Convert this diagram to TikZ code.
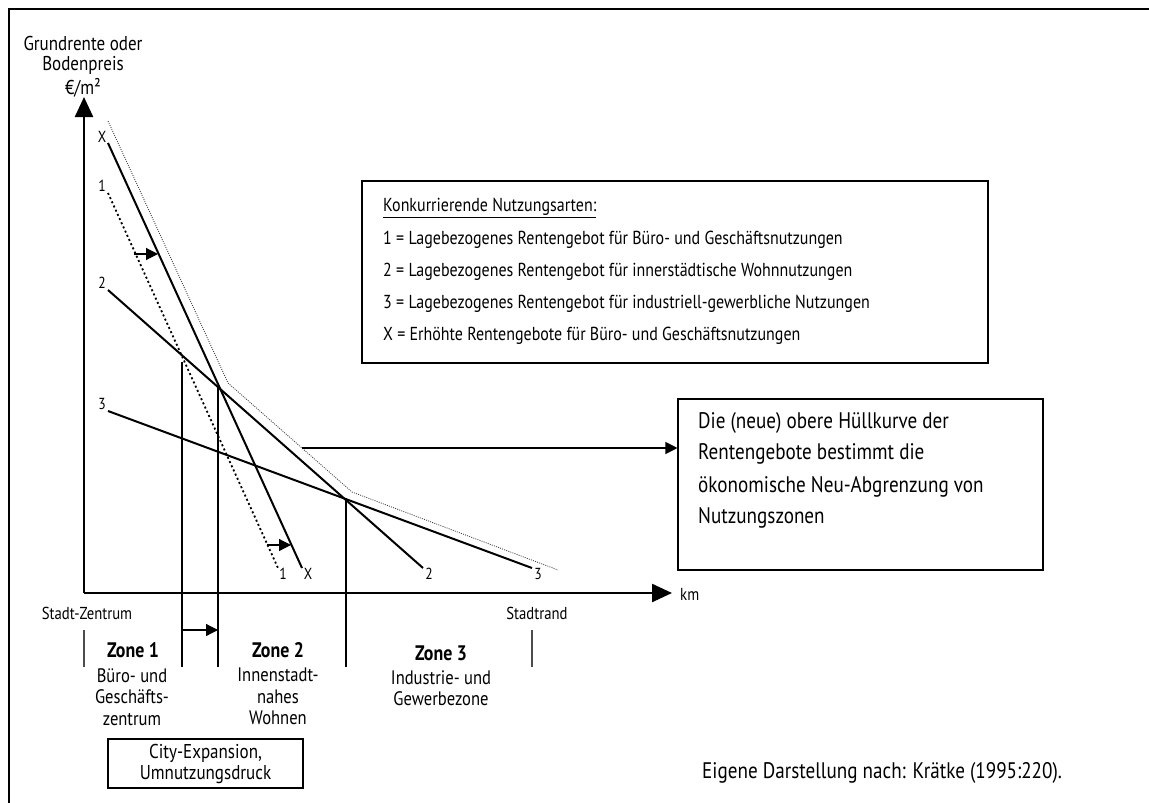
\documentclass[tikz,border=0pt]{standalone}
\usepackage{fontspec}
\setmainfont[FakeStretch=0.85]{PT Sans}
\usetikzlibrary{arrows.meta}
\begin{document}
\begin{tikzpicture}[x=1pt,y=-1pt,
  solidl/.style={line width=2pt, black},
  dotl/.style={line width=1.8pt, dash pattern=on 2pt off 2.6pt, black},
  envl/.style={line width=0.8pt, dash pattern=on 1pt off 1.2pt, black!75},
  thinl/.style={line width=1.1pt, black},
  bigarr/.style={-{Triangle[length=20pt,width=18pt]}, line width=2.4pt},
  smallarr/.style={-{Triangle[length=12pt,width=12pt]}, line width=1.2pt},
  boxl/.style={draw, line width=1.1pt, inner sep=0pt},
  endlbl/.style={inner sep=0pt, font=\fontsize{16}{18}\selectfont},
  leg/.style={anchor=west, inner sep=0pt, font=\fontsize{18.8}{21}\selectfont},
  hull/.style={anchor=west, inner sep=0pt, font=\fontsize{22.5}{24}\selectfont},
  axlbl/.style={inner sep=0pt, font=\fontsize{20}{22}\selectfont},
  small/.style={inner sep=0pt, font=\fontsize{17.3}{19}\selectfont},
  zone/.style={inner sep=0pt, font=\fontsize{21}{23}\selectfont\bfseries},
  zdesc/.style={inner sep=0pt, align=center, font=\fontsize{19.5}{21.5}\selectfont},
]
\useasboundingbox (0,0) rectangle (1149,803);
% frame (only top and left edges visible)
\draw[line width=2.6pt] (9,803) -- (9,9) -- (1149,9);

% axes
\coordinate (O) at (84,593);
\coordinate (ytip) at (84,97);
\coordinate (xtip) at (672,593);
\draw[bigarr] (O) -- (ytip);
\draw[bigarr] (O) -- (xtip);
\node[axlbl] (yl1) at (83,43) {Grundrente oder};
\node[axlbl] (yl2) at (83,65) {Bodenpreis};
\node[axlbl] (yl3) at (83,88) {€/m²};
\node[small, anchor=west] (km) at (680,594) {km};

% bid-rent lines
\coordinate (xs) at (108,143);  \coordinate (xe) at (302,568);
\coordinate (as) at (108,193);  \coordinate (ae) at (278,568);
\coordinate (bs) at (108,290);  \coordinate (be) at (423,568);
\coordinate (cs) at (108,411);  \coordinate (ce) at (532,568);
\draw[solidl] (xs) -- (xe);
\draw[dotl] (as) -- (ae);
\draw[solidl] (bs) -- (be);
\draw[solidl] (cs) -- (ce);
% envelope
\coordinate (h0) at (108,121);
\coordinate (h1) at (228,383);
\coordinate (h2) at (352,492);
\coordinate (h3) at (558,570);
\draw[envl] (h0) -- (h1) -- (h2) -- (h3);

% end labels
\node[endlbl] (lxs) at (102,137) {X};
\node[endlbl] (las) at (102,186) {1};
\node[endlbl] (lbs) at (102,283) {2};
\node[endlbl] (lcs) at (102,404) {3};
\node[endlbl] (lae) at (283,574) {1};
\node[endlbl] (lxe) at (308,574) {X};
\node[endlbl] (lbe) at (429,574) {2};
\node[endlbl] (lce) at (538,574) {3};

% shift arrows
\coordinate (s1a) at (134,254); \coordinate (s1b) at (158,254);
\coordinate (s2a) at (267,545); \coordinate (s2b) at (291,545);
\draw[smallarr] (s1a) -- (s1b);
\draw[smallarr] (s2a) -- (s2b);

% zone boundaries
\coordinate (v1t) at (182,362); \coordinate (v1b) at (182,667);
\coordinate (v2t) at (218,388); \coordinate (v2b) at (218,667);
\coordinate (v3t) at (346,498); \coordinate (v3b) at (346,667);
\coordinate (t0t) at (84,630);  \coordinate (t0b) at (84,667);
\coordinate (t4t) at (532,630); \coordinate (t4b) at (532,667);
\draw[thinl] (v1t) -- (v1b);
\draw[thinl] (v2t) -- (v2b);
\draw[thinl] (v3t) -- (v3b);
\draw[thinl, black!70] (t0t) -- (t0b);
\draw[thinl, black!70] (t4t) -- (t4b);
\coordinate (za) at (182,630); \coordinate (zb) at (218,630);
\draw[smallarr] (za) -- (zb);

\node[small] (sz) at (87,613) {Stadt-Zentrum};
\node[small] (sr) at (537,613) {Stadtrand};
\node[zone] (z1) at (133,650) {Zone 1};
\node[zone] (z2) at (278,650) {Zone 2};
\node[zone] (z3) at (441,653) {Zone 3};
\node[zdesc, anchor=north] (d1) at (132,668) {Büro- und\\Geschäfts-\\zentrum};
\node[zdesc, anchor=north] (d2) at (278,668) {Innenstadt-\\nahes\\Wohnen};
\node[zdesc, anchor=north] (d3) at (441,670) {Industrie- und\\Gewerbezone};

\node[boxl, minimum width=195pt, minimum height=49pt, align=center,
      font=\fontsize{20}{21}\selectfont] (city) at (205.5,763.5) {City-Expansion,\\Umnutzungsdruck};

% legend
\node[boxl, minimum width=626pt, minimum height=182pt] (legbox) at (675,272) {};
\node[leg] (lg0) at (383,208) {\underline{Konkurrierende Nutzungsarten:}};
\node[leg] (lg1) at (383,240) {1 = Lagebezogenes Rentengebot für Büro- und Geschäftsnutzungen};
\node[leg] (lg2) at (383,272) {2 = Lagebezogenes Rentengebot für innerstädtische Wohnnutzungen};
\node[leg] (lg3) at (383,304) {3 = Lagebezogenes Rentengebot für industriell-gewerbliche Nutzungen};
\node[leg] (lg4) at (383,336) {X = Erhöhte Rentengebote für Büro- und Geschäftsnutzungen};

% hull box
\node[boxl, minimum width=365pt, minimum height=171pt] (hbox) at (860.5,484.5) {};
\coordinate (hp) at (302,448);
\draw[smallarr] (hp) -- (hbox.west |- hp);
\node[hull] (hb1) at (698,423) {Die (neue) obere Hüllkurve der};
\node[hull] (hb2) at (698,454) {Rentengebote bestimmt die};
\node[hull] (hb3) at (698,487) {ökonomische Neu-Abgrenzung von};
\node[hull] (hb4) at (698,518) {Nutzungszonen};

\node[hull] (src) at (702,773) {Eigene Darstellung nach: Krätke (1995:220).};
\end{tikzpicture}
\end{document}
